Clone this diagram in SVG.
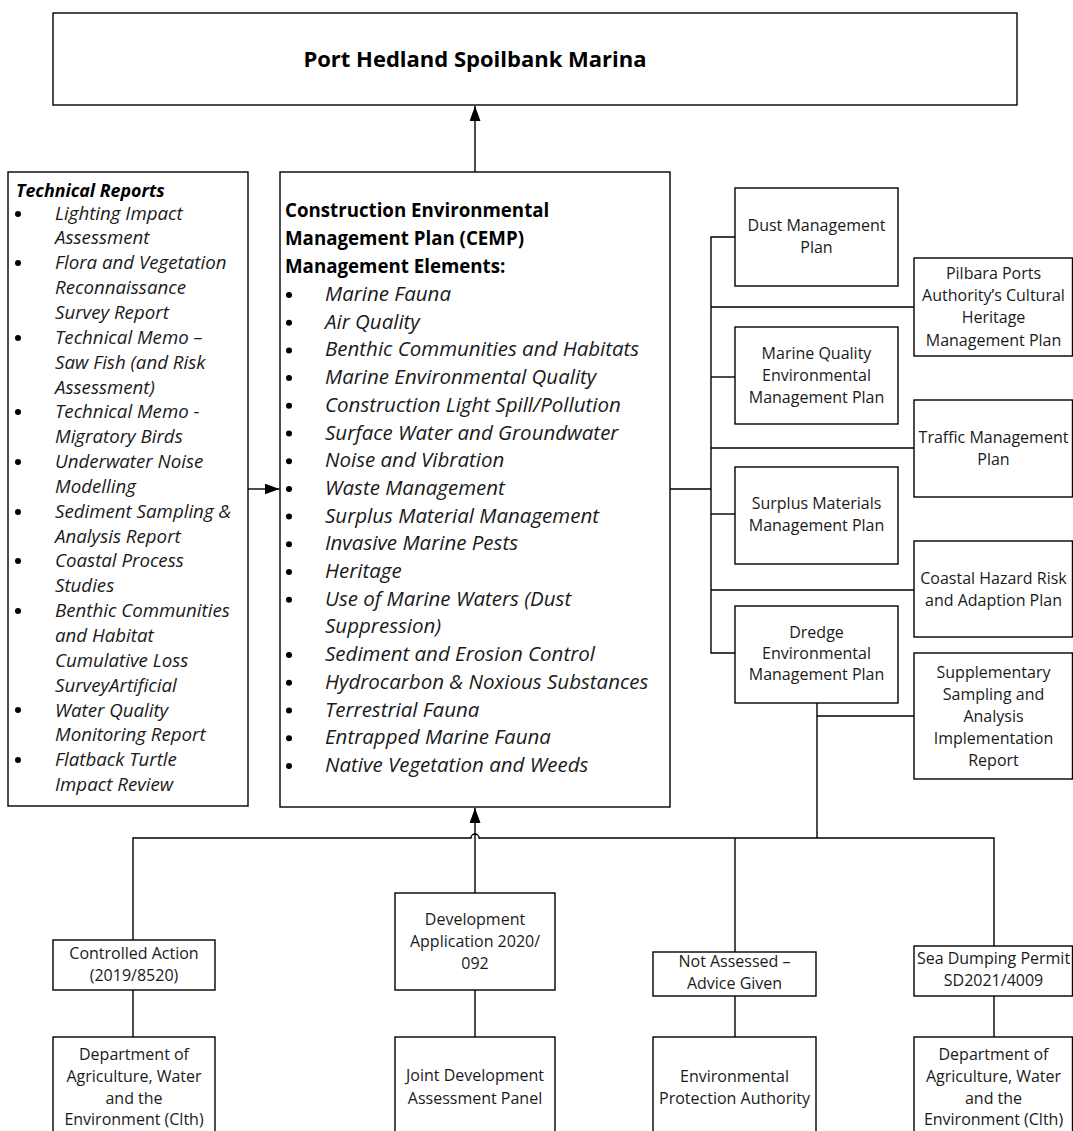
<svg xmlns="http://www.w3.org/2000/svg" width="1073" height="1131" viewBox="0 0 1073 1131">
<style>
.box{fill:#fff;stroke:#000;stroke-width:1.4}
.ln{fill:none;stroke:#000;stroke-width:1.4}
.t{font-family:"Open Sans","Noto Sans",sans-serif;font-size:16px;fill:#1a1a1a;text-anchor:middle}
.title{font-family:"Open Sans","Noto Sans",sans-serif;font-size:22px;font-weight:bold;fill:#000;text-anchor:middle}
.h{font-family:"Open Sans","Noto Sans",sans-serif;font-size:18.7px;font-weight:bold;fill:#000}
.li{font-family:"Open Sans","Noto Sans",sans-serif;font-size:20.5px;font-style:italic;fill:#1a1a1a}
.tl{font-family:"Open Sans","Noto Sans",sans-serif;font-size:18.7px;font-style:italic;fill:#1a1a1a}
.th{font-family:"Open Sans","Noto Sans",sans-serif;font-size:17.8px;font-style:italic;font-weight:bold;fill:#000}
.dot{fill:#000}
</style>
<defs>
<marker id="ah" viewBox="0 0 15 11" refX="15" refY="5.5" markerWidth="15" markerHeight="11" markerUnits="userSpaceOnUse" orient="auto">
<path d="M0,0 L15,5.5 L0,11 z" fill="#000"/>
</marker>
</defs>

<g id="connectors">
<path class="ln" d="M475,172 V106" marker-end="url(#ah)"/>
<path class="ln" d="M248,489 H279.5" marker-end="url(#ah)"/>
<path class="ln" d="M670,489 H711"/>
<path class="ln" d="M735,237 H711 V653 H735"/>
<path class="ln" d="M711,307 H914"/>
<path class="ln" d="M711,377 H735"/>
<path class="ln" d="M711,448 H914"/>
<path class="ln" d="M711,514 H735"/>
<path class="ln" d="M711,590 H914"/>
<path class="ln" d="M817,703 V838"/>
<path class="ln" d="M817,716 H914"/>
<path class="ln" d="M133,940 V838 H471 A4,4 0 0 1 479,838 H994 V946"/>
<path class="ln" d="M735,838 V952"/>
<path class="ln" d="M735,996 V1037"/>
<path class="ln" d="M994,996 V1037"/>
<path class="ln" d="M133,990 V1037"/>
<path class="ln" d="M475,990 V1037"/>
<path class="ln" d="M475,893 V808" marker-end="url(#ah)"/>
</g>

<g id="title">
<rect class="box" x="53" y="13" width="964" height="92"/>
<text class="title" x="475" y="67">Port Hedland Spoilbank Marina</text>
</g>

<g id="technical-reports">
<rect class="box" x="8" y="172" width="240" height="634"/>
<text class="th" x="16" y="196.5">Technical Reports</text>
<g class="dot">
<circle cx="18" cy="214" r="3"/>
<circle cx="18" cy="263" r="3"/>
<circle cx="18" cy="338" r="3"/>
<circle cx="18" cy="412" r="3"/>
<circle cx="18" cy="462" r="3"/>
<circle cx="18" cy="512" r="3"/>
<circle cx="18" cy="561" r="3"/>
<circle cx="18" cy="611" r="3"/>
<circle cx="18" cy="710" r="3"/>
<circle cx="18" cy="760" r="3"/>
</g>
<text class="tl" x="55" y="219.5">Lighting Impact</text>
<text class="tl" x="55" y="244.4">Assessment</text>
<text class="tl" x="55" y="269.2">Flora and Vegetation</text>
<text class="tl" x="55" y="294.1">Reconnaissance</text>
<text class="tl" x="55" y="318.9">Survey Report</text>
<text class="tl" x="55" y="343.8">Technical Memo –</text>
<text class="tl" x="55" y="368.6">Saw Fish (and Risk</text>
<text class="tl" x="55" y="393.5">Assessment)</text>
<text class="tl" x="55" y="418.3">Technical Memo -</text>
<text class="tl" x="55" y="443.2">Migratory Birds</text>
<text class="tl" x="55" y="468">Underwater Noise</text>
<text class="tl" x="55" y="492.9">Modelling</text>
<text class="tl" x="55" y="517.7">Sediment Sampling &amp;</text>
<text class="tl" x="55" y="542.6">Analysis Report</text>
<text class="tl" x="55" y="567.4">Coastal Process</text>
<text class="tl" x="55" y="592.3">Studies</text>
<text class="tl" x="55" y="617.1">Benthic Communities</text>
<text class="tl" x="55" y="642">and Habitat</text>
<text class="tl" x="55" y="666.8">Cumulative Loss</text>
<text class="tl" x="55" y="691.7">SurveyArtificial</text>
<text class="tl" x="55" y="716.5">Water Quality</text>
<text class="tl" x="55" y="741.4">Monitoring Report</text>
<text class="tl" x="55" y="766.2">Flatback Turtle</text>
<text class="tl" x="55" y="791.1">Impact Review</text>
</g>

<g id="cemp">
<rect class="box" x="280" y="172" width="390" height="635"/>
<text class="h" x="285" y="216.5">Construction Environmental</text>
<text class="h" x="285" y="244.5">Management Plan (CEMP)</text>
<text class="h" x="285" y="272.5">Management Elements:</text>
<g class="dot">
<circle cx="289" cy="295" r="3"/>
<circle cx="289" cy="322.7" r="3"/>
<circle cx="289" cy="350.4" r="3"/>
<circle cx="289" cy="378.1" r="3"/>
<circle cx="289" cy="405.8" r="3"/>
<circle cx="289" cy="433.5" r="3"/>
<circle cx="289" cy="461.2" r="3"/>
<circle cx="289" cy="488.9" r="3"/>
<circle cx="289" cy="516.6" r="3"/>
<circle cx="289" cy="544.3" r="3"/>
<circle cx="289" cy="572" r="3"/>
<circle cx="289" cy="599.7" r="3"/>
<circle cx="289" cy="655.1" r="3"/>
<circle cx="289" cy="682.8" r="3"/>
<circle cx="289" cy="710.5" r="3"/>
<circle cx="289" cy="738.2" r="3"/>
<circle cx="289" cy="765.9" r="3"/>
</g>
<text class="li" x="325" y="301">Marine Fauna</text>
<text class="li" x="325" y="328.7">Air Quality</text>
<text class="li" x="325" y="356.4">Benthic Communities and Habitats</text>
<text class="li" x="325" y="384.1">Marine Environmental Quality</text>
<text class="li" x="325" y="411.8">Construction Light Spill/Pollution</text>
<text class="li" x="325" y="439.5">Surface Water and Groundwater</text>
<text class="li" x="325" y="467.2">Noise and Vibration</text>
<text class="li" x="325" y="494.9">Waste Management</text>
<text class="li" x="325" y="522.6">Surplus Material Management</text>
<text class="li" x="325" y="550.3">Invasive Marine Pests</text>
<text class="li" x="325" y="578">Heritage</text>
<text class="li" x="325" y="605.7">Use of Marine Waters (Dust</text>
<text class="li" x="325" y="633.4">Suppression)</text>
<text class="li" x="325" y="661.1">Sediment and Erosion Control</text>
<text class="li" x="325" y="688.8">Hydrocarbon &amp; Noxious Substances</text>
<text class="li" x="325" y="716.5">Terrestrial Fauna</text>
<text class="li" x="325" y="744.2">Entrapped Marine Fauna</text>
<text class="li" x="325" y="771.9">Native Vegetation and Weeds</text>
</g>

<g id="dust">
<rect class="box" x="735" y="188" width="163" height="98"/>
<text class="t" x="816.5" y="230.5">Dust Management</text>
<text class="t" x="816.5" y="252.5">Plan</text>
</g>
<g id="pilbara">
<rect class="box" x="914" y="258" width="158.5" height="98"/>
<text class="t" x="993.5" y="278.5">Pilbara Ports</text>
<text class="t" x="993.5" y="300.5">Authority’s Cultural</text>
<text class="t" x="993.5" y="322.5">Heritage</text>
<text class="t" x="993.5" y="345.5">Management Plan</text>
</g>
<g id="marine-quality">
<rect class="box" x="735" y="327" width="163" height="97"/>
<text class="t" x="816.5" y="358.5">Marine Quality</text>
<text class="t" x="816.5" y="380.5">Environmental</text>
<text class="t" x="816.5" y="402.5">Management Plan</text>
</g>
<g id="traffic">
<rect class="box" x="914" y="400" width="158.5" height="97"/>
<text class="t" x="993.5" y="442.5">Traffic Management</text>
<text class="t" x="993.5" y="464.5">Plan</text>
</g>
<g id="surplus">
<rect class="box" x="735" y="467" width="163" height="97"/>
<text class="t" x="816.5" y="508.5">Surplus Materials</text>
<text class="t" x="816.5" y="530.5">Management Plan</text>
</g>
<g id="coastal">
<rect class="box" x="914" y="541" width="158.5" height="96"/>
<text class="t" x="993.5" y="583.5">Coastal Hazard Risk</text>
<text class="t" x="993.5" y="605.5">and Adaption Plan</text>
</g>
<g id="dredge">
<rect class="box" x="735" y="606" width="163" height="97"/>
<text class="t" x="816.5" y="637.5">Dredge</text>
<text class="t" x="816.5" y="658.5">Environmental</text>
<text class="t" x="816.5" y="679.5">Management Plan</text>
</g>
<g id="supplementary">
<rect class="box" x="914" y="653" width="158.5" height="126"/>
<text class="t" x="993.5" y="677.5">Supplementary</text>
<text class="t" x="993.5" y="699.5">Sampling and</text>
<text class="t" x="993.5" y="722">Analysis</text>
<text class="t" x="993.5" y="743.5">Implementation</text>
<text class="t" x="993.5" y="765.5">Report</text>
</g>

<g id="controlled-action">
<rect class="box" x="53" y="940" width="162" height="50"/>
<text class="t" x="134" y="958.5">Controlled Action</text>
<text class="t" x="134" y="980.5">(2019/8520)</text>
</g>
<g id="dawe-left">
<rect class="box" x="53" y="1037" width="162" height="110"/>
<text class="t" x="134" y="1059.5">Department of</text>
<text class="t" x="134" y="1081.5">Agriculture, Water</text>
<text class="t" x="134" y="1103.5">and the</text>
<text class="t" x="134" y="1124.5">Environment (Clth)</text>
</g>
<g id="development-application">
<rect class="box" x="395" y="893" width="160" height="97"/>
<text class="t" x="475" y="924.5">Development</text>
<text class="t" x="475" y="946.5">Application 2020/</text>
<text class="t" x="475" y="968.5">092</text>
</g>
<g id="jdap">
<rect class="box" x="395" y="1037" width="160" height="110"/>
<text class="t" x="475" y="1080.5">Joint Development</text>
<text class="t" x="475" y="1103.5">Assessment Panel</text>
</g>
<g id="not-assessed">
<rect class="box" x="653" y="952" width="163" height="44"/>
<text class="t" x="734.5" y="966.5">Not Assessed –</text>
<text class="t" x="734.5" y="988.5">Advice Given</text>
</g>
<g id="epa">
<rect class="box" x="653" y="1037" width="163" height="110"/>
<text class="t" x="734.5" y="1081.5">Environmental</text>
<text class="t" x="734.5" y="1103.5">Protection Authority</text>
</g>
<g id="sea-dumping">
<rect class="box" x="914" y="946" width="158.5" height="50"/>
<text class="t" x="993.5" y="963.5">Sea Dumping Permit</text>
<text class="t" x="993.5" y="985.5">SD2021/4009</text>
</g>
<g id="dawe-right">
<rect class="box" x="914" y="1037" width="158.5" height="110"/>
<text class="t" x="993.5" y="1059.5">Department of</text>
<text class="t" x="993.5" y="1081.5">Agriculture, Water</text>
<text class="t" x="993.5" y="1103.5">and the</text>
<text class="t" x="993.5" y="1124.5">Environment (Clth)</text>
</g>
</svg>
